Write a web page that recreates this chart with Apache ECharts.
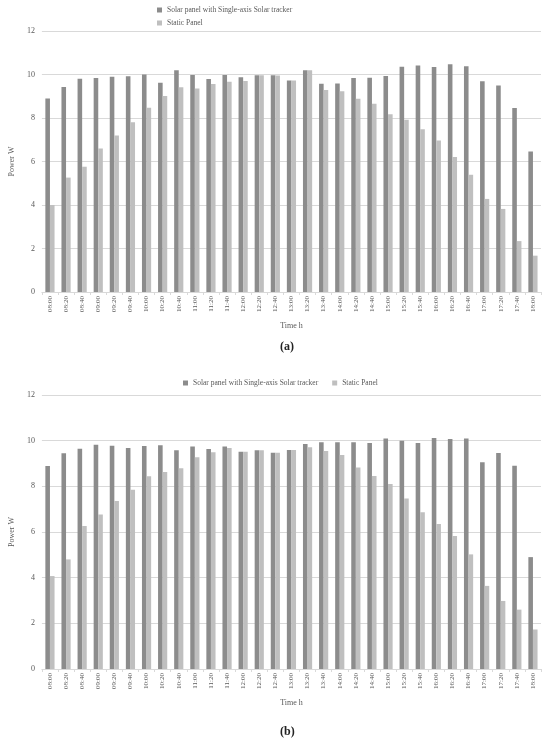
<!DOCTYPE html>
<html>
<head>
<meta charset="utf-8" />
<script src="https://cdn.jsdelivr.net/npm/echarts@6/dist/echarts.min.js"></script>
<style>
  html, body { margin: 0; padding: 0; background: #fff; }
  #chart { width: 550px; height: 743px; }
</style>
</head>
<body>
<div id="chart"></div>
<script>
const times = [
  '08:00', '08:20', '08:40', '09:00', '09:20', '09:40', '10:00', '10:20',
  '10:40', '11:00', '11:20', '11:40', '12:00', '12:20', '12:40', '13:00',
  '13:20', '13:40', '14:00', '14:20', '14:40', '15:00', '15:20', '15:40',
  '16:00', '16:20', '16:40', '17:00', '17:20', '17:40', '18:00',
];

// (a)
const trackerA = [
  8.90, 9.43, 9.81, 9.84, 9.90, 9.92, 10.00, 9.62, 10.19, 9.98, 9.79, 9.98,
  9.87, 9.96, 9.96, 9.72, 10.20, 9.58, 9.59, 9.84, 9.85, 9.93, 10.36, 10.41,
  10.34, 10.47, 10.38, 9.69, 9.50, 8.46, 6.46,
];
const staticA = [
  4.00, 5.26, 5.76, 6.60, 7.19, 7.80, 8.47, 9.01, 9.41, 9.36, 9.56, 9.67,
  9.70, 9.96, 9.95, 9.72, 10.19, 9.29, 9.23, 8.89, 8.66, 8.17, 7.92, 7.48,
  6.97, 6.21, 5.39, 4.28, 3.82, 2.34, 1.67,
];

// (b)
const trackerB = [
  8.89, 9.45, 9.65, 9.82, 9.78, 9.68, 9.77, 9.80, 9.58, 9.75, 9.64, 9.75,
  9.52, 9.58, 9.47, 9.59, 9.85, 9.93, 9.93, 9.93, 9.90, 10.10, 10.00, 9.90,
  10.12, 10.07, 10.10, 9.05, 9.46, 8.90, 4.90,
];
const staticB = [
  4.07, 4.80, 6.26, 6.77, 7.36, 7.85, 8.44, 8.63, 8.79, 9.27, 9.49, 9.68,
  9.52, 9.58, 9.47, 9.59, 9.71, 9.55, 9.37, 8.83, 8.45, 8.10, 7.47, 6.87,
  6.35, 5.82, 5.02, 3.64, 2.98, 2.60, 1.73,
];

const yTicks = [0, 2, 4, 6, 8, 10, 12];

const nameTracker = 'Solar panel with Single-axis Solar tracker';
const nameStatic = 'Static Panel';

const font = '"Liberation Serif", "DejaVu Serif", serif';
const darkColor = '#8c8c8c';
const lightColor = '#bfbfbf';

const xAxisFor = (gridIndex) => ({
  type: 'category',
  gridIndex,
  data: times,
  name: 'Time h',
  nameLocation: 'middle',
  nameGap: 30,
  nameTextStyle: { fontFamily: font, fontSize: 8, color: '#595959' },
  axisLine: { lineStyle: { color: '#d9d9d9' } },
  axisTick: { show: true, length: 3, lineStyle: { color: '#d9d9d9' } },
  axisLabel: {
    rotate: 90,
    interval: 0,
    fontFamily: font,
    fontSize: 7,
    color: '#595959',
    margin: 4,
  },
});

const yAxisFor = (gridIndex, nameGap) => ({
  type: 'value',
  gridIndex,
  min: yTicks[0],
  max: yTicks[yTicks.length - 1],
  interval: 2,
  name: 'Power W',
  nameLocation: 'middle',
  nameGap,
  nameTextStyle: { fontFamily: font, fontSize: 8, color: '#595959' },
  axisLine: { show: false },
  axisTick: { show: false },
  axisLabel: { fontFamily: font, fontSize: 8, color: '#595959', margin: 7 },
  splitLine: { lineStyle: { color: '#d9d9d9', width: 1 } },
});

const barFor = (name, data, color, axisIndex) => ({
  name,
  type: 'bar',
  xAxisIndex: axisIndex,
  yAxisIndex: axisIndex,
  data,
  barGap: '0%',
  barCategoryGap: '43%',
  itemStyle: { color },
});

const legendText = { fontFamily: font, fontSize: 7.5, color: '#595959' };

const option = {
  animation: false,
  textStyle: { fontFamily: font },
  legend: [
    {
      orient: 'vertical',
      left: 152,
      top: 1,
      itemWidth: 5,
      itemHeight: 5,
      itemGap: 5,
      icon: 'rect',
      textStyle: legendText,
      data: [nameTracker, nameStatic],
      selectedMode: false,
    },
    {
      orient: 'horizontal',
      left: 178,
      top: 374,
      itemWidth: 5,
      itemHeight: 5,
      itemGap: 14,
      icon: 'rect',
      textStyle: legendText,
      data: [nameTracker, nameStatic],
      selectedMode: false,
    },
  ],
  grid: [
    { left: 34, right: 9, top: 31, height: 261 },
    { left: 30, right: 9, top: 395, height: 274 },
  ],
  xAxis: [xAxisFor(0), xAxisFor(1)],
  yAxis: [yAxisFor(0, 22), yAxisFor(1, 20)],
  series: [
    barFor(nameTracker, trackerA, darkColor, 0),
    barFor(nameStatic, staticA, lightColor, 0),
    barFor(nameTracker, trackerB, darkColor, 1),
    barFor(nameStatic, staticB, lightColor, 1),
  ],
  graphic: [
    {
      type: 'text',
      left: 280,
      top: 341,
      style: { text: '(a)', font: 'bold 12px ' + font, fill: '#222' },
    },
    {
      type: 'text',
      left: 280,
      top: 726,
      style: { text: '(b)', font: 'bold 12px ' + font, fill: '#222' },
    },
  ],
};

const chart = echarts.init(document.getElementById('chart'));
chart.setOption(option);
</script>
</body>
</html>
